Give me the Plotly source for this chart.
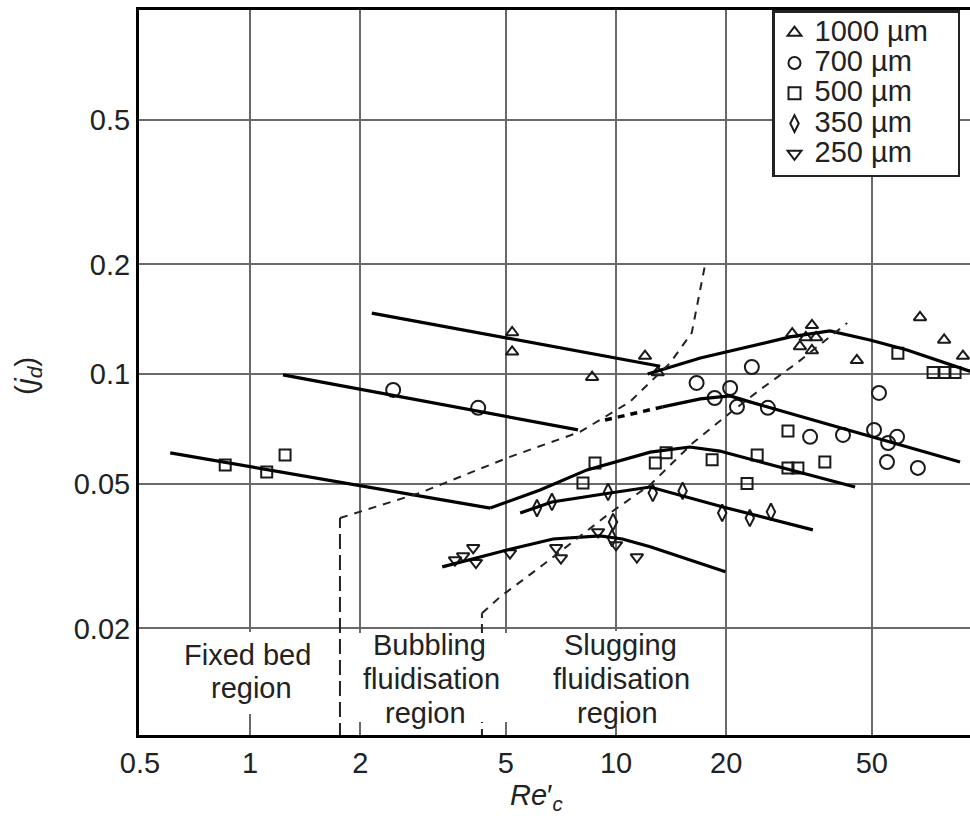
import math
import plotly.graph_objects as go

# ---------------- data ----------------
series_names = ["1000 µm", "700 µm", "500 µm", "350 µm", "250 µm"]

x1000 = [5.2, 5.2, 8.6, 12.0, 13.0, 30.3, 31.8, 33.0, 34.3, 34.3, 35.2, 45.5, 67.7, 78.8, 88.7]
y1000 = [0.130, 0.115, 0.098, 0.112, 0.101, 0.129, 0.119, 0.126, 0.136, 0.116, 0.126, 0.109, 0.143, 0.124, 0.112]

x700 = [2.46, 4.2, 16.6, 18.6, 20.5, 21.4, 23.5, 26.0, 33.9, 41.7, 50.7, 52.3, 55.4, 55.0, 58.6, 66.8]
y700 = [0.0904, 0.0807, 0.0945, 0.0859, 0.0915, 0.0812, 0.1045, 0.0807, 0.0672, 0.0680, 0.0702, 0.0887, 0.0646, 0.0573, 0.0672, 0.0552]

x500 = [0.855, 1.11, 1.246, 8.12, 8.76, 12.8, 13.7, 18.3, 22.8, 24.3, 29.5, 29.5, 31.4, 37.2, 58.9, 73.5, 79.2, 84.4]
y500 = [0.0562, 0.0538, 0.0599, 0.0502, 0.0569, 0.0569, 0.0607, 0.0581, 0.0500, 0.0599, 0.0697, 0.0552, 0.0552, 0.0573, 0.114, 0.101, 0.101, 0.101]

x350 = [6.08, 6.68, 9.51, 9.81, 9.75, 12.6, 15.2, 19.5, 23.2, 26.5]
y350 = [0.0428, 0.0445, 0.0474, 0.0392, 0.0354, 0.0471, 0.0477, 0.0415, 0.0402, 0.0418]

x250 = [3.63, 3.82, 4.07, 4.14, 5.13, 6.86, 7.07, 8.93, 10.0, 11.4]
y250 = [0.0308, 0.0316, 0.0333, 0.0303, 0.0322, 0.0333, 0.0312, 0.0368, 0.0339, 0.0314]

# correlation curves (solid)
fix1000_x = [2.15, 13.2]
fix1000_y = [0.147, 0.105]
flu1000_x = [12.2, 17.0, 29.9, 38.4, 49.4, 62.4, 95.7]
flu1000_y = [0.100, 0.1106, 0.1264, 0.1313, 0.124, 0.1164, 0.1006]
fix700_x = [1.23, 7.87]
fix700_y = [0.0994, 0.0702]
ext700_x = [9.33, 13.4]
ext700_y = [0.0747, 0.0812]
flu700_x = [13.4, 17.0, 20.5, 23.2, 87.1]
flu700_y = [0.0812, 0.0854, 0.0870, 0.0838, 0.0573]
fix500_x = [0.605, 4.53]
fix500_y = [0.0607, 0.0428]
flu500_x = [4.53, 6.2, 8.33, 12.4, 15.9, 19.2, 45.0]
flu500_y = [0.0428, 0.0480, 0.0545, 0.0610, 0.0630, 0.0614, 0.0489]
flu350_x = [5.47, 6.68, 9.63, 12.4, 19.6, 34.5]
flu350_y = [0.0415, 0.0445, 0.0471, 0.0489, 0.0431, 0.0373]
flu250_x = [3.35, 5.13, 6.73, 9.04, 10.4, 12.4, 19.9]
flu250_y = [0.0295, 0.0330, 0.0352, 0.0359, 0.0352, 0.0335, 0.0286]

# region boundaries (dashed)
bubv_x = [1.76, 1.76]
bubv_y = [0.01, 0.0402]
bubd_x = [1.76, 2.91, 5.13, 7.97, 10.9, 14.05, 16.1, 17.5]
bubd_y = [0.0402, 0.0471, 0.0592, 0.0693, 0.0838, 0.1072, 0.1297, 0.199]
slugv_x = [4.30, 4.30]
slugv_y = [0.01, 0.022]
slugd_x = [4.30, 4.82, 6.32, 9.63, 12.4, 16.2, 20.5, 24.7, 31.2, 42.8]
slugd_y = [0.022, 0.0244, 0.0299, 0.0415, 0.0496, 0.0646, 0.0782, 0.0904, 0.1072, 0.138]

x_ticks = [0.5, 1, 2, 5, 10, 20, 50]
x_ticktext = ["0.5", "1", "2", "5", "10", "20", "50"]
y_ticks = [0.02, 0.05, 0.1, 0.2, 0.5]
y_ticktext = ["0.02", "0.05", "0.1", "0.2", "0.5"]

region_lines = [
    ("Fixed bed", 247, 655), ("region", 251, 688),
    ("Bubbling", 429, 645), ("fluidisation", 431, 679), ("region", 425, 713),
    ("Slugging", 620, 645), ("fluidisation", 621, 679), ("region", 617, 713),
]
# white backing boxes behind the region labels (pixel extents)
region_boxes = [(172, 322, 632, 714), (350, 514, 633, 722), (535, 712, 631, 726)]

# ---------------- figure ----------------
W, H = 970, 818
L, R, T, B = 139, 0, 10, 83
PW, PH = W - L - R, H - T - B

def px(xp):
    return (xp - L) / PW

def py(yp):
    return (T + PH - yp) / PH

INK = "#1a1a1a"
fig = go.Figure()

marker_specs = [
    (x1000, y1000, "triangle-up-open", 11),
    (x700, y700, "circle-open", 14),
    (x500, y500, "square-open", 11),
    (x350, y350, "diamond-tall-open", 12),
    (x250, y250, "triangle-down-open", 11),
]
for name, (xs, ys, sym, sz) in zip(series_names, marker_specs):
    fig.add_trace(go.Scatter(
        x=xs, y=ys, mode="markers",
        name='<span style="font-size:29px">' + name + '\u00a0\u00a0\u00a0</span>',
        marker=dict(symbol=sym, size=sz, color=INK, line=dict(width=2, color=INK)),
    ))

solid = [
    (fix1000_x, fix1000_y), (flu1000_x, flu1000_y),
    (fix700_x, fix700_y), (flu700_x, flu700_y),
    (fix500_x, fix500_y), (flu500_x, flu500_y),
    (flu350_x, flu350_y), (flu250_x, flu250_y),
]
for xs, ys in solid:
    fig.add_trace(go.Scatter(x=xs, y=ys, mode="lines", showlegend=False,
                             line=dict(color="black", width=3.2), hoverinfo="skip"))

fig.add_trace(go.Scatter(x=ext700_x, y=ext700_y, mode="lines", showlegend=False,
                         line=dict(color="black", width=3.5, dash="7px,6px"), hoverinfo="skip"))

for xs, ys, dash in [(bubv_x, bubv_y, "15px,6px"), (bubd_x, bubd_y, "8px,7px"),
                     (slugv_x, slugv_y, "9px,6px"), (slugd_x, slugd_y, "8px,7px")]:
    fig.add_trace(go.Scatter(x=xs, y=ys, mode="lines", showlegend=False,
                             line=dict(color="#222", width=2, dash=dash), hoverinfo="skip"))

shapes = []
for x0, x1, y0, y1 in region_boxes:
    shapes.append(dict(type="rect", xref="paper", yref="paper",
                       x0=px(x0), x1=px(x1), y0=py(y1), y1=py(y0),
                       fillcolor="white", line=dict(width=0), layer="above"))

annotations = []
for txt, xp, yp in region_lines:
    annotations.append(dict(
        text=txt, x=px(xp), y=py(yp), xref="paper", yref="paper",
        xanchor="center", yanchor="middle", showarrow=False,
        font=dict(size=29, color="#222"),
    ))

annotations.append(dict(
    text="(<i>j</i><sub><i>d</i></sub>)", x=px(28), y=py(376), xref="paper", yref="paper",
    xanchor="center", yanchor="middle", showarrow=False, textangle=-90,
    font=dict(size=30, color="#222"),
))
annotations.append(dict(
    text="<i>Re</i>′<sub><i>c</i></sub>", x=px(536), y=py(797), xref="paper", yref="paper",
    xanchor="center", yanchor="middle", showarrow=False,
    font=dict(size=29, color="#222"),
))

fig.update_layout(
    width=W, height=H,
    margin=dict(l=L, r=R, t=T, b=B),
    paper_bgcolor="white", plot_bgcolor="white",
    font=dict(family="Liberation Sans, Arial, sans-serif", size=29, color="#222"),
    showlegend=True,
    legend=dict(
        x=px(772), y=1, xanchor="left", yanchor="top",
        bgcolor="white", bordercolor="#222", borderwidth=2.5,
        font=dict(size=21, color="#222"),
        itemsizing="constant",
    ),
    shapes=shapes,
    annotations=annotations,
    xaxis=dict(
        type="log",
        range=[math.log10(0.497), (970 - 250) / 366.0],
        tickvals=x_ticks, ticktext=x_ticktext,
        showgrid=True, gridcolor="#6a6a6a", gridwidth=2,
        showline=True, linecolor="black", linewidth=3, mirror=True,
        ticks="", zeroline=False,
        tickfont=dict(size=29, color="#222"),
    ),
    yaxis=dict(
        type="log",
        range=[-1.992, 0.0],
        tickvals=y_ticks, ticktext=y_ticktext,
        showgrid=True, gridcolor="#6a6a6a", gridwidth=2,
        showline=True, linecolor="black", linewidth=3, mirror=False,
        ticks="", zeroline=False,
        tickfont=dict(size=29, color="#222"),
    ),
)

fig.write_html("out.html")
